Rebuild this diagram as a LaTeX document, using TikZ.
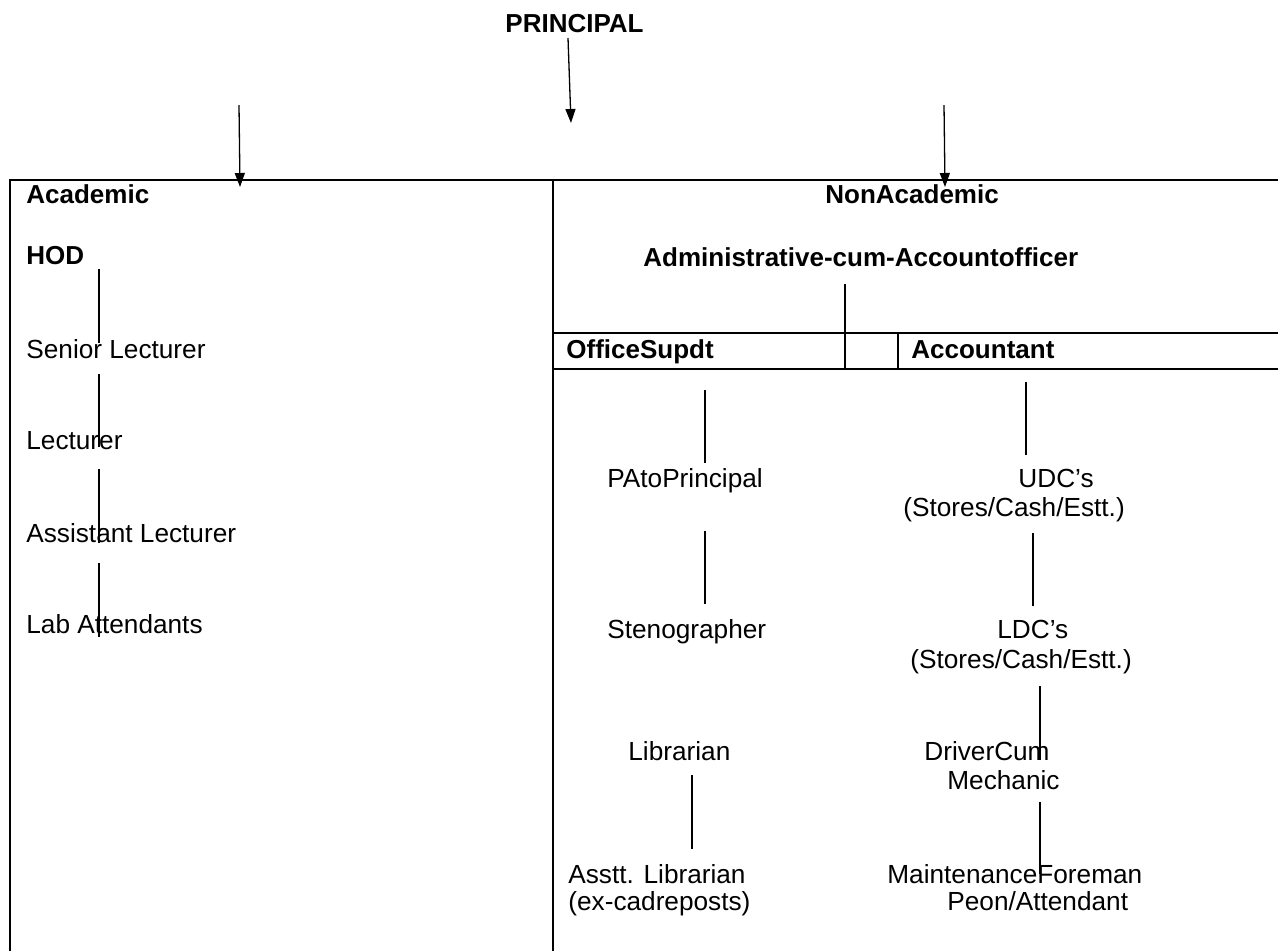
\documentclass[tikz,border=0pt]{standalone}
\usepackage{fontspec}
\setmainfont{Liberation Sans}
\usetikzlibrary{arrows.meta}
\begin{document}
\begin{tikzpicture}[x=0.5pt,y=-0.5pt,
  txt/.style={font=\fontsize{13.1}{15}\selectfont,inner sep=0pt,anchor=base west},
  head/.style={txt,font=\fontsize{13}{15}\selectfont\bfseries},
  link/.style={line width=0.65pt},
  >={Triangle[length=7pt,width=5pt]}]
\useasboundingbox(0,0)rectangle(1278,950);
%top
\node[head](prin)at(505,32){PRINCIPAL};
\draw[link,->](568,38)--(571,123);
\draw[link,->](239,105)--(240,187);
\draw[link,->](944,105)--(945,187);
%frame
\draw[line width=1pt](1278,180)--(10,180)--(10,951);
\draw[line width=1pt](553,180)--(553,951);
\draw[line width=1pt](553,333)--(1278,333)(553,369)--(1278,369);
\draw[line width=1pt](845,333)--++(0,36)(898,333)--++(0,36);
\draw[link](845,284)--(845,333);
%academic
\node[head](acad)at(26,203){Academic};
\node[head](hod)at(26,264){HOD};
\node[txt](senior)at(26,358){Senior Lecturer};
\node[txt](lect)at(26,449){Lecturer};
\node[txt](asst)at(26,542){Assistant Lecturer};
\node[txt](lab)at(26,633){Lab Attendants};
\foreach \a/\b in {269/343,374/447,469/543,563/637}
  \draw[link](99,\a)--(99,\b);
%non academic
\node[head](nonacad)at(825,203){NonAcademic};
\node[head](adm)at(643,266){Administrative-cum-Accountofficer};
\node[head](office)at(566,358){OfficeSupdt};
\node[head](accnt)at(911,358){Accountant};
\node[txt](pa)at(607,487){PAtoPrincipal};
\node[txt](udc)at(1018,487){UDC’s};
\node[txt](udcsub)at(903,516){(Stores/Cash/Estt.)};
\node[txt](steno)at(607,638){Stenographer};
\node[txt](ldc)at(997,638){LDC’s};
\node[txt](ldcsub)at(910,668){(Stores/Cash/Estt.)};
\node[txt](libr)at(628,760){Librarian};
\node[txt](driver)at(924,760){DriverCum};
\node[txt](mech)at(947,789){Mechanic};
\node[txt](asstlib)at(568,883){Asstt. Librarian};
\node[txt](excadre)at(568,910){(ex-cadreposts)};
\node[txt](maint)at(887,883){MaintenanceForeman};
\node[txt](peon)at(947,910){Peon/Attendant};
%links
\draw[link](705,390)--(705,463);
\draw[link](705,531)--(705,604);
\draw[link](692,775)--(692,849);
\draw[link](1026,382)--(1026,455);
\draw[link](1033,533)--(1033,606);
\draw[link](1040,686)--(1040,760);
\draw[link](1040,802)--(1040,874);
\end{tikzpicture}
\end{document}
